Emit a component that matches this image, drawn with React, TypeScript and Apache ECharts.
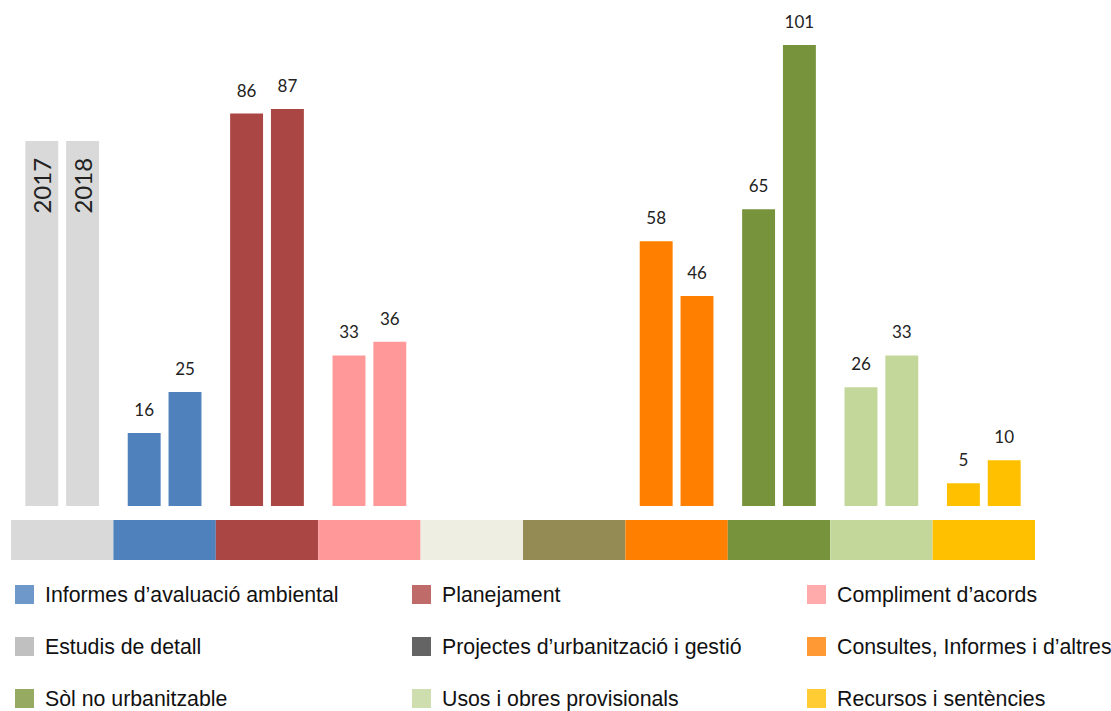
import React, { useEffect, useRef } from "react";
import * as echarts from "echarts";

const categories = [
  "Any",
  "Informes d’avaluació ambiental",
  "Planejament",
  "Compliment d’acords",
  "Estudis de detall",
  "Projectes d’urbanització i gestió",
  "Consultes, Informes i d’altres",
  "Sòl no urbanitzable",
  "Usos i obres provisionals",
  "Recursos i sentències",
];
const years = ["2017", "2018"];
const values2017 = [80, 16, 86, 33, null, null, 58, 65, 26, 5];
const values2018 = [80, 25, 87, 36, null, null, 46, 101, 33, 10];
const barColors = [
  "#D9D9D9", "#4F81BD", "#AA4644", "#FF9999", "#EEEEE2",
  "#948A54", "#FF8000", "#77933C", "#C4D79B", "#FFC000",
];
const stripValues = [1, 1, 1, 1, 1, 1, 1, 1, 1, 1];

const legendCol1 = ["Informes d’avaluació ambiental", "Estudis de detall", "Sòl no urbanitzable"];
const legendCol2 = ["Planejament", "Projectes d’urbanització i gestió", "Usos i obres provisionals"];
const legendCol3 = ["Compliment d’acords", "Consultes, Informes i d’altres", "Recursos i sentències"];
const legendNames = [...legendCol1, ...legendCol2, ...legendCol3];
const legendColors = [
  "#6F98CA", "#C0C0C0", "#97AA62",
  "#BF6B69", "#646464", "#CFDEAE",
  "#FFABAB", "#FF9933", "#FFCC33",
];

function buildSeriesData(values: (number | null)[], yearIdx: number) {
  return values.map((v, i) => {
    const item: any = { value: v, itemStyle: { color: barColors[i] } };
    if (i === 0) {
      item.label = {
        show: true,
        formatter: years[yearIdx],
        position: "insideTop",
        rotate: 90,
        align: "right",
        verticalAlign: "middle",
        distance: 17,
        fontSize: 24,
        fontFamily: "Lato",
        color: "#222",
      };
    }
    return item;
  });
}

export default function App() {
  const ref = useRef<HTMLDivElement>(null);
  useEffect(() => {
    if (!ref.current) return;
    const chart = echarts.init(ref.current, null, { renderer: "svg" });
    const legendBase = {
      orient: "vertical" as const,
      top: 584,
      padding: 0,
      itemWidth: 19,
      itemHeight: 19,
      itemGap: 31,
      icon: "rect",
      selectedMode: false,
      textStyle: {
        fontFamily: "Liberation Sans",
        fontSize: 21.3,
        lineHeight: 21,
        color: "#111",
        padding: [0, 0, 0, 6],
      },
    };
    chart.setOption({
      animation: false,
      backgroundColor: "#fff",
      grid: [
        { left: 11, width: 1024, top: 4, height: 502 },
        { left: 11, width: 1024, top: 520, height: 40 },
      ],
      xAxis: [
        { type: "category", data: categories, gridIndex: 0, show: false },
        { type: "category", data: categories, gridIndex: 1, show: false },
      ],
      yAxis: [
        { type: "value", min: 0, max: 110, gridIndex: 0, show: false },
        { type: "value", min: 0, max: 1, gridIndex: 1, show: false },
      ],
      legend: [
        { ...legendBase, left: 15, data: legendCol1 },
        { ...legendBase, left: 412, data: legendCol2 },
        { ...legendBase, left: 807, data: legendCol3 },
      ],
      series: [
        {
          name: years[0],
          type: "bar",
          xAxisIndex: 0,
          yAxisIndex: 0,
          barCategoryGap: "28%",
          barGap: "24%",
          data: buildSeriesData(values2017, 0),
          label: {
            show: true,
            position: "top",
            distance: 15,
            fontSize: 17,
            fontFamily: "Lato",
            color: "#222",
          },
        },
        {
          name: years[1],
          type: "bar",
          xAxisIndex: 0,
          yAxisIndex: 0,
          barCategoryGap: "28%",
          barGap: "24%",
          data: buildSeriesData(values2018, 1),
          label: {
            show: true,
            position: "top",
            distance: 15,
            fontSize: 17,
            fontFamily: "Lato",
            color: "#222",
          },
        },
        {
          name: "strip",
          type: "bar",
          xAxisIndex: 1,
          yAxisIndex: 1,
          barWidth: "100%",
          data: stripValues.map((v, i) => ({ value: v, itemStyle: { color: barColors[i] } })),
        },
        ...legendNames.map((n, i) => ({
          name: n,
          type: "line",
          xAxisIndex: 0,
          yAxisIndex: 0,
          data: [],
          itemStyle: { color: legendColors[i] },
          lineStyle: { color: legendColors[i] },
        })),
      ],
    });
    return () => chart.dispose();
  }, []);
  return (
    <div
      ref={ref}
      style={{ position: "fixed", left: 0, top: 0, width: 1111, height: 711 }}
    />
  );
}
